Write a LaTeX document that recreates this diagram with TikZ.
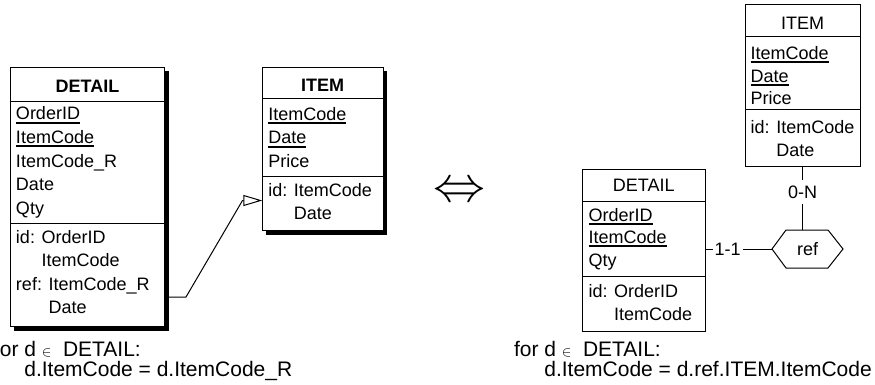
\documentclass[tikz,border=0pt]{standalone}
\usepackage{fontspec}
\setmainfont{Liberation Sans}
\usepackage{graphicx}
\usetikzlibrary{arrows.meta,shadows,calc}
\newcommand\ulc[1]{\draw[ul] ([yshift=-2.8pt]#1.base west) -- ([yshift=-2.8pt]#1.base east);}
\newcommand\elemsym{{\fontsize{14}{14}\selectfont$\in$}}
\begin{document}
\begin{tikzpicture}[x=1pt,y=-1pt,
  every node/.style={inner sep=0pt,outer sep=0pt},
  ebox/.style={draw,line width=1pt,fill=white,anchor=north west,rectangle},
  shad/.style={drop shadow={shadow xshift=4pt,shadow yshift=-4pt,fill=black,opacity=1}},
  atr/.style={anchor=base west,font=\fontsize{18}{20}\selectfont},
  ttl/.style={anchor=base,font=\fontsize{18}{20}\selectfont},
  bttl/.style={anchor=base,font=\fontsize{18}{20}\selectfont\bfseries},
  sepl/.style={line width=1pt},
  ul/.style={line width=1.8pt},
  conn/.style={line width=1pt},
  card/.style={fill=white,inner xsep=2pt,inner ysep=6pt,font=\fontsize{18}{20}\selectfont},
  foot/.style={anchor=base west,font=\fontsize{21}{22}\selectfont}]
\useasboundingbox (0,0) rectangle (875,385);

% ---------- left DETAIL ----------
\node[ebox,shad,minimum width=154.5pt,minimum height=259.2pt] (ldet) at (10,67.5) {};
\node[bttl] (ldett) at (87.5,92.7) {DETAIL};
\draw[sepl] ([yshift=-34.2pt]ldet.north west) -- ([yshift=-34.2pt]ldet.north east);
\draw[sepl] ([yshift=-155.5pt]ldet.north west) -- ([yshift=-155.5pt]ldet.north east);
\node[atr] (ld1) at (16,120) {OrderID};
\node[atr] (ld2) at (16,143.5) {ItemCode};
\node[atr] (ld3) at (16,167) {ItemCode\_R};
\node[atr] (ld4) at (16,190.5) {Date};
\node[atr] (ld5) at (16,214) {Qty};
\node[atr] (ld6) at (16,243.3) {id: OrderID};
\node[atr] (ld7) at (16,266.7) {\phantom{id: }ItemCode};
\node[atr] (ld8) at (16,290) {ref: ItemCode\_R};
\node[atr] (ld9) at (16,313.3) {\phantom{ref: }Date};
\ulc{ld1}\ulc{ld2}

% ---------- left ITEM ----------
\node[ebox,shad,minimum width=120.7pt,minimum height=163.4pt] (litem) at (262.3,67.3) {};
\node[bttl] (litemt) at (322.6,91.7) {ITEM};
\draw[sepl] ([yshift=-31.7pt]litem.north west) -- ([yshift=-31.7pt]litem.north east);
\draw[sepl] ([yshift=-108.7pt]litem.north west) -- ([yshift=-108.7pt]litem.north east);
\node[atr] (li1) at (268.3,120.5) {ItemCode};
\node[atr] (li2) at (268.3,143.8) {Date};
\node[atr] (li3) at (268.3,167) {Price};
\node[atr] (li4) at (268.3,196.5) {id: ItemCode};
\node[atr] (li5) at (268.3,219.5) {\phantom{id: }Date};
\ulc{li1}\ulc{li2}

% ---------- left connector ----------
\coordinate (lk1) at (186,297);
\coordinate (lk2) at (242.5,200.5);
\draw[conn,-{Triangle[open,length=19pt,width=11pt]}]
  (lk1 -| ldet.east) -- (lk1) -- (lk2) -- (lk2 -| litem.west);

% ---------- equivalence ----------
\node (eqv) at (459,192) {\scalebox{5.2}[5]{$\Leftrightarrow$}};

% ---------- right DETAIL ----------
\node[ebox,minimum width=122.3pt,minimum height=162.4pt] (rdet) at (582.7,169.3) {};
\node[ttl] (rdett) at (643.8,191.7) {DETAIL};
\draw[sepl] ([yshift=-32.4pt]rdet.north west) -- ([yshift=-32.4pt]rdet.north east);
\draw[sepl] ([yshift=-107.4pt]rdet.north west) -- ([yshift=-107.4pt]rdet.north east);
\node[atr] (rd1) at (588.5,221) {OrderID};
\node[atr] (rd2) at (588.5,243.5) {ItemCode};
\node[atr] (rd3) at (588.5,266) {Qty};
\node[atr] (rd4) at (588.5,297) {id: OrderID};
\node[atr] (rd5) at (588.5,320.5) {\phantom{id: }ItemCode};
\ulc{rd1}\ulc{rd2}

% ---------- right ITEM ----------
\node[ebox,minimum width=115pt,minimum height=161.7pt] (ritem) at (745,5) {};
\node[ttl] (ritemt) at (802.5,29.3) {ITEM};
\draw[sepl] ([yshift=-31.7pt]ritem.north west) -- ([yshift=-31.7pt]ritem.north east);
\draw[sepl] ([yshift=-105pt]ritem.north west) -- ([yshift=-105pt]ritem.north east);
\node[atr] (ri1) at (750.7,59.5) {ItemCode};
\node[atr] (ri2) at (750.7,82.5) {Date};
\node[atr] (ri3) at (750.7,105) {Price};
\node[atr] (ri4) at (750.7,133) {id: ItemCode};
\node[atr] (ri5) at (750.7,156.5) {\phantom{id: }Date};
\ulc{ri1}\ulc{ri2}

% ---------- relationship ref ----------
\node[font=\fontsize{18}{20}\selectfont] (rel) at (807.5,249) {ref};
\coordinate (relW) at ($(rel.center)+(-35.5,0)$);
\coordinate (relN) at ($(rel.center)+(0,-19)$);
\draw[conn] (relW) -- ($(rel.center)+(-21.5,-19)$) -- ($(rel.center)+(20.5,-19)$)
  -- ($(rel.center)+(35.5,0)$) -- ($(rel.center)+(20.5,19)$) -- ($(rel.center)+(-21.5,19)$) -- cycle;
\draw[conn] (ritem.south) -- node[card,pos=0.4] (cardN) {0-N} (ritem.south |- relN);
\draw[conn] (relW -| rdet.east) -- node[card,pos=0.336] (card1) {1-1} (relW);

% ---------- constraints ----------
\node[foot] (lf1) at (-6,356) {for d \elemsym\hspace{0.55em}DETAIL:};
\node[foot] (lf2) at (-6,376) {\phantom{for }d.ItemCode = d.ItemCode\_R};
\node[foot] (rf1) at (514,356) {for d \elemsym\hspace{0.55em}DETAIL:};
\node[foot] (rf2) at (514,376) {\phantom{for }d.ItemCode = d.ref.ITEM.ItemCode};
\end{tikzpicture}
\end{document}
